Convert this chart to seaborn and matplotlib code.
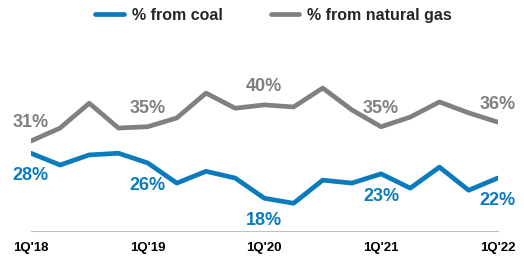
import pandas as pd
import matplotlib.pyplot as plt
import seaborn as sns

# quarterly data, 1Q'18 .. 1Q'22
quarters = ["1Q'18", "2Q'18", "3Q'18", "4Q'18",
            "1Q'19", "2Q'19", "3Q'19", "4Q'19",
            "1Q'20", "2Q'20", "3Q'20", "4Q'20",
            "1Q'21", "2Q'21", "3Q'21", "4Q'21",
            "1Q'22"]
pct_coal = [28.3, 25.5, 27.9, 28.3, 26.0, 21.2, 24.0, 22.4, 17.6,
            16.4, 21.9, 21.2, 23.4, 20.0, 25.0, 19.5, 22.4]
pct_gas = [31.2, 34.3, 40.2, 34.3, 34.6, 36.7, 42.6, 39.0, 39.8,
           39.3, 43.8, 38.6, 34.6, 36.9, 40.5, 37.9, 35.7]
label_quarters = ["1Q'18", "1Q'19", "1Q'20", "1Q'21", "1Q'22"]

BLUE = '#0a7bbd'
GRAY = '#808080'

sns.set_theme(style='white')
plt.rcParams['font.family'] = ['Liberation Sans', 'DejaVu Sans']

df = pd.DataFrame({
    'x': list(range(len(quarters))) * 2,
    'value': pct_coal + pct_gas,
    'series': ['% from coal'] * len(quarters) + ['% from natural gas'] * len(quarters),
})

fig = plt.figure(figsize=(5.24, 2.57), dpi=100)
ax = fig.add_axes([0.059, 0.101, 0.891, 0.666])

sns.lineplot(data=df, x='x', y='value', hue='series',
             palette={'% from coal': BLUE, '% from natural gas': GRAY},
             linewidth=3.4, ax=ax, legend=False)

ax.set_xlim(0, len(quarters) - 1)
ax.set_ylim(9.8, 50.5)
tick_pos = [quarters.index(q) for q in label_quarters]
ax.set_xticks(tick_pos)
ax.set_xticklabels(label_quarters, fontsize=9.5, fontweight='bold', color='black')
ax.tick_params(axis='x', length=0, pad=8)
ax.set_yticks([])
ax.set_xlabel('')
ax.set_ylabel('')
for s in ['top', 'left', 'right']:
    ax.spines[s].set_visible(False)
ax.spines['bottom'].set_color('#bfbfbf')
ax.spines['bottom'].set_linewidth(0.8)

# value labels
for i in tick_pos:
    ax.annotate(f"{round(pct_gas[i])}%", (i, pct_gas[i]), xytext=(0, 13),
                textcoords='offset points', ha='center', va='center',
                fontsize=13, fontweight='bold', color=GRAY, clip_on=False)
    ax.annotate(f"{round(pct_coal[i])}%", (i, pct_coal[i]), xytext=(0, -16),
                textcoords='offset points', ha='center', va='center',
                fontsize=13, fontweight='bold', color=BLUE, clip_on=False)

handles = [plt.Line2D([], [], color=BLUE, linewidth=3.4),
           plt.Line2D([], [], color=GRAY, linewidth=3.4)]
fig.legend(handles, ['% from coal', '% from natural gas'], loc='center',
           bbox_to_anchor=(0.522, 0.94), ncol=2, frameon=False,
           prop={'size': 11.5, 'weight': 'bold'}, handlelength=1.8,
           columnspacing=3.0, handletextpad=0.5)

plt.savefig('out.png', dpi=100)
